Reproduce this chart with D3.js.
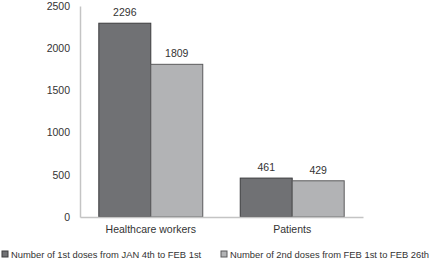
<!DOCTYPE html>
<html>
<head>
<meta charset="utf-8">
<script src="https://cdn.jsdelivr.net/npm/d3@7"></script>
<style>
  body { margin: 0; background: #fff; }
  svg text { font-family: "Liberation Sans", Arial, sans-serif; fill: #333; }
</style>
</head>
<body>
<div id="chart"></div>
<script>
// Data
const categories = ["Healthcare workers", "Patients"];
const seriesNames = [
  "Number of 1st doses from JAN 4th to FEB 1st",
  "Number of 2nd doses from FEB 1st to FEB 26th"
];
const firstDoses = [2296, 461];
const secondDoses = [1809, 429];
const yTicks = [0, 500, 1000, 1500, 2000, 2500];

const chartData = categories.map((c, i) => ({
  category: c,
  values: [
    { key: 0, value: firstDoses[i] },
    { key: 1, value: secondDoses[i] }
  ]
}));

// Dimensions
const W = 434, H = 262;
const margin = { top: 6, right: 71, bottom: 45, left: 80 };
const width = W - margin.left - margin.right,
  height = H - margin.top - margin.bottom;

const svg = d3.select("#chart").append("svg")
  .attr("width", W)
  .attr("height", H);

const g = svg.append("g")
  .attr("transform", `translate(${margin.left},${margin.top})`);

// Scales
const x0 = d3.scaleBand()
  .domain(categories)
  .range([0, width])
  .paddingInner(0.265)
  .paddingOuter(0.133);

const x1 = d3.scaleBand()
  .domain([0, 1])
  .range([0, x0.bandwidth()]);

const y = d3.scaleLinear()
  .domain([0, 2500])
  .range([height, 0]);

const fills = ["#707174", "#b2b3b5"];
const strokes = ["#3c3c3e", "#5a5a5c"];

// Y axis (line + labels, no ticks)
const yAxis = g.append("g")
  .call(d3.axisLeft(y).tickValues(yTicks).tickFormat(d3.format("d")).tickSize(0).tickPadding(10));
yAxis.select(".domain").attr("stroke", "#c4c4c4").attr("stroke-width", 1.5);
yAxis.selectAll("text").style("font-size", "10.5px").attr("fill", "#333");

// Bars
const groups = g.append("g")
  .selectAll("g")
  .data(chartData)
  .join("g")
  .attr("transform", d => `translate(${x0(d.category)},0)`);

groups.selectAll("rect")
  .data(d => d.values)
  .join("rect")
  .attr("x", d => x1(d.key))
  .attr("y", d => y(d.value))
  .attr("width", x1.bandwidth())
  .attr("height", d => height - y(d.value))
  .attr("fill", d => fills[d.key])
  .attr("stroke", d => strokes[d.key])
  .attr("stroke-width", 1);

groups.selectAll("text.val")
  .data(d => d.values)
  .join("text")
  .attr("class", "val")
  .attr("x", d => x1(d.key) + x1.bandwidth() / 2)
  .attr("y", d => y(d.value) - 7)
  .attr("text-anchor", "middle")
  .style("font-size", "10.5px")
  .text(d => d.value);

// X axis
const xAxis = g.append("g")
  .attr("transform", `translate(0,${height})`)
  .call(d3.axisBottom(x0).tickSize(0).tickPadding(9));
xAxis.select(".domain").attr("stroke", "#c4c4c4").attr("stroke-width", 1.5);
xAxis.selectAll("text").style("font-size", "10.5px").attr("fill", "#333");

// Legend
const legendX = [2, 221];
seriesNames.forEach((name, i) => {
  const lg = svg.append("g")
    .attr("transform", `translate(${legendX[i]},${H - 8})`);
  lg.append("rect")
    .attr("x", 0)
    .attr("y", -3)
    .attr("width", 6)
    .attr("height", 6)
    .attr("fill", fills[i])
    .attr("stroke", strokes[i]);
  lg.append("text")
    .attr("x", 9)
    .attr("y", 4)
    .style("font-size", "9.4px")
    .text(name);
});
</script>
</body>
</html>
